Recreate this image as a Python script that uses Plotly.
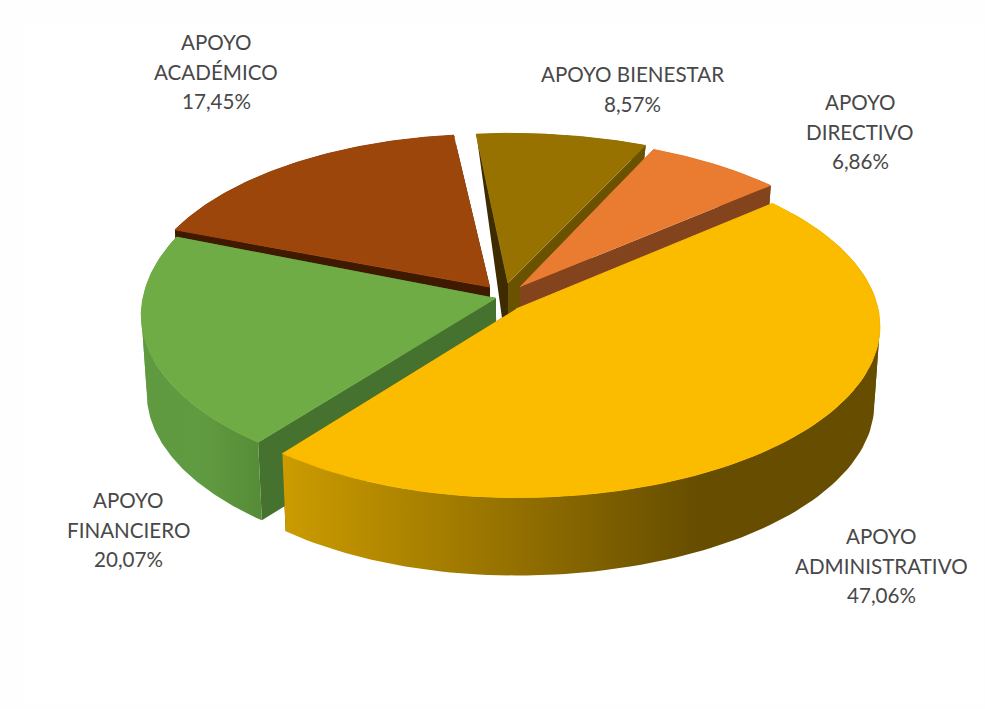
import numpy as np
import plotly.graph_objects as go

# slices, clockwise from the start angle
categories = ['APOYO ADMINISTRATIVO', 'APOYO FINANCIERO', 'APOYO ACADÉMICO', 'APOYO BIENESTAR', 'APOYO DIRECTIVO']
shares = [47.06, 20.07, 17.45, 8.57, 6.86]

# style / layout, one entry per slice
top_colors = ['#FBBC00', '#6FAC46', '#9D460B', '#977200', '#EA7C32']
start_wall_colors = ['#664D00', '#46722F', '#3F1A00', '#3D2C00', '#83431C']
end_wall_colors = ['#664D00', '#46722F', '#3F1A00', '#6B5200', '#83431C']
rim_scales = [
    [[0, '#CB9B00'], [1, '#664D00']],
    [[0, '#5F9A40'], [0.5, '#619B41'], [1, '#568C37']],
    [[0, '#3F1A00'], [1, '#3F1A00']],
    [[0, '#6B5200'], [1, '#6B5200']],
    [[0, '#83431C'], [1, '#83431C']],
]
rim_grad_x = [(285, 700), (145, 260), (170, 460), (470, 650), (650, 775)]
apex_x = [516, 496, 490, 508, 520]
apex_y = [309, 298, 287, 283, 287]
left_scale = [0.95, 0.967, 0.955, 0.84, 0.965]
right_scale = [0.992, 1, 1, 1, 0.97]
back_y_scale = [1.02, 1.07, 1, 0.98, 0.98]
front_y_scale = [1.01, 1.01, 1, 1, 1]
draw_order = [3, 4, 2, 1, 0]

label_lines = [['APOYO', 'ADMINISTRATIVO'], ['APOYO', 'FINANCIERO'], ['APOYO', 'ACADÉMICO'],
               ['APOYO BIENESTAR'], ['APOYO', 'DIRECTIVO']]
label_x = [881, 128, 216, 632, 860]
label_y = [536, 500, 42, 74, 102]
line_step = 29.6

START_DEG = 49
RX, RY = 365, 168
PERSP = 0.1
DEPTH = 78
SHRINK = 0.015
CENTER_X = 505


def project(i, theta):
    # top face of slice i, theta in degrees clockwise from the back
    t = np.radians(theta)
    gx, gy = np.sin(t), np.cos(t)
    s = 1 / (1 + PERSP * gy)
    sx = np.where(gx < 0, left_scale[i], right_scale[i])
    sy = np.where(gy > 0, back_y_scale[i], front_y_scale[i])
    return apex_x[i] + RX * sx * gx * s, apex_y[i] - RY * sy * gy * s, gy


def drop(x, y, gy):
    # same point on the underside, the wall gets short towards the back rim
    d = DEPTH * (1 - np.clip(gy, 0, None) ** 3)
    return x + (CENTER_X - x) * SHRINK, y + d


def polygon(xs, ys, color=None, scale=None, grad=None, edge=0):
    kw = dict(fillcolor=color)
    if scale is not None:
        kw = dict(fillgradient=dict(type='horizontal', colorscale=scale, start=grad[0], stop=grad[1]))
    return go.Scatter(x=list(xs), y=list(ys), mode='lines', fill='toself',
                      line=dict(width=edge, color=color), hoverinfo='skip', showlegend=False, **kw)


total = sum(shares)
bounds = START_DEG + 360 * np.concatenate([[0], np.cumsum(shares)]) / total

fig = go.Figure()

for i in draw_order:
    th = np.linspace(bounds[i], bounds[i + 1], 120)
    rx, ry, gy = project(i, th)
    bx, by = drop(rx, ry, gy)
    ax, ay = apex_x[i], apex_y[i]
    abx, aby = drop(ax, ay, 0.0)

    # radial cut walls
    fig.add_trace(polygon([ax, rx[0], bx[0], abx], [ay, ry[0], by[0], aby], start_wall_colors[i]))
    fig.add_trace(polygon([ax, rx[-1], bx[-1], abx], [ay, ry[-1], by[-1], aby], end_wall_colors[i]))
    # outer wall, split at the left/right extremes so the silhouette has no notch
    cuts = sorted({0, int(np.argmax(rx)), int(np.argmin(rx)), len(th) - 1})
    for a, b in zip(cuts[:-1], cuts[1:]):
        fig.add_trace(polygon(np.r_[rx[a:b + 1], bx[a:b + 1][::-1]], np.r_[ry[a:b + 1], by[a:b + 1][::-1]],
                              scale=rim_scales[i], grad=rim_grad_x[i]))
    # top
    fig.add_trace(polygon(np.r_[ax, rx], np.r_[ay, ry], top_colors[i], edge=1))

for i in range(len(categories)):
    lines = label_lines[i] + [f'{shares[i]:.2f}%'.replace('.', ',')]
    for n, txt in enumerate(lines):
        fig.add_annotation(x=label_x[i], y=label_y[i] + n * line_step, text=txt, showarrow=False,
                           xanchor='center', yanchor='middle',
                           font=dict(family='Lato', size=20.6, color='#484848'))

fig.update_layout(
    width=985, height=709,
    margin=dict(l=0, r=0, t=0, b=0),
    paper_bgcolor='#FEFEFE',
    plot_bgcolor='#FEFEFE',
    showlegend=False,
    xaxis=dict(range=[0, 985], visible=False, fixedrange=True),
    yaxis=dict(range=[709, 0], visible=False, fixedrange=True),
    shapes=[dict(type='rect', xref='x', yref='y', x0=25, y0=22, x1=983, y1=705,
                 fillcolor='#FFFFFF', line_width=0, layer='below')],
)

fig.write_html("out.html", config={'displayModeBar': False}, post_script="document.body.style.margin='0';")
